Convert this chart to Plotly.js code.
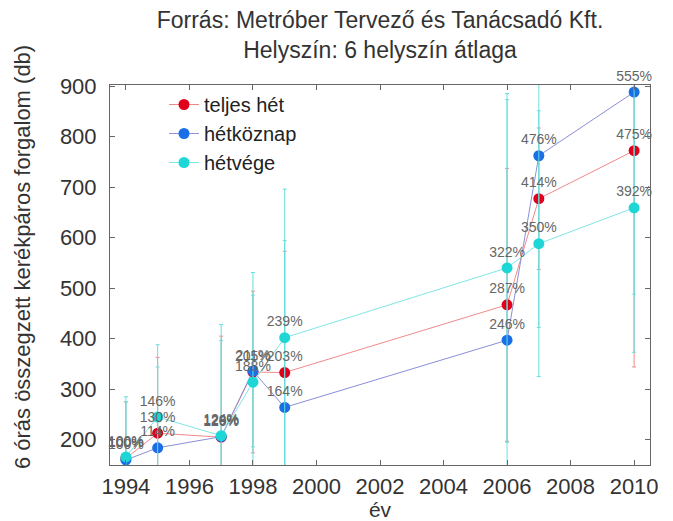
<!DOCTYPE html>
<html>
<head>
<meta charset="utf-8">
<script src="https://cdn.plot.ly/plotly-3.0.1.min.js"></script>
<style>html,body{margin:0;padding:0;background:#fff;}#chart{width:673px;height:521px;}</style>
</head>
<body>
<div id="chart"></div>
<script>
// ---- data ----
var years = [1994, 1995, 1997, 1998, 1999, 2006, 2007, 2010];

var teljesHet   = [163, 213, 205, 334, 333, 467, 677, 772];
var hetkoznap   = [160, 184, 206, 336, 264, 397, 762, 888];
var hetvege     = [166, 245, 208, 314, 402, 540, 588, 659];

var teljesErr   = [112, 150, 200, 160, 240, 270, 140, 428];
var hetkoznapErr= [115, 160, 190, 150, 330, 476, 340, 400];
var hetvegeErr  = [119, 143, 220, 217, 294, 345, 263, 286];

var teljesPct   = ["100%", "130%", "126%", "205%", "203%", "287%", "414%", "475%"];
var hetkoznapPct= ["100%", "114%", "129%", "211%", "164%", "246%", "476%", "555%"];
var hetvegePct  = ["100%", "146%", "124%", "188%", "239%", "322%", "350%", "392%"];

var seriesNames = ["teljes hét", "hétköznap", "hétvége"];
var titleText = "Forrás: Metróber Tervező és Tanácsadó Kft.<br>Helyszín: 6 helyszín átlaga";
var xTitle = "év";
var yTitle = "6 órás összegzett kerékpáros forgalom (db)";

// ---- styling ----
var markerColors = ["#e0001b", "#1a6fe6", "#1fd6d6"];
var lineColors   = ["#f08a8a", "#8a8fd8", "#7fe6e6"];
var errColors    = ["#f08a8a", "#74dede", "#66dede"];

var values = [teljesHet, hetkoznap, hetvege];
var errs = [teljesErr, hetkoznapErr, hetvegeErr];
var pcts = [teljesPct, hetkoznapPct, hetvegePct];

var FONT = "Liberation Sans, Arial, sans-serif";
var traces = [];
for (var i = 0; i < 3; i++) {
  traces.push({
    type: "scatter",
    mode: "lines+markers",
    name: seriesNames[i],
    x: years,
    y: values[i],
    line: {color: lineColors[i], width: 1},
    marker: {color: markerColors[i], size: 11, line: {width: 0}},
    error_y: {type: "data", array: errs[i], visible: true, color: errColors[i], thickness: 1, width: 2},
    hoverinfo: "x+y"
  });
}
for (var j = 0; j < 3; j++) {
  traces.push({
    type: "scatter",
    mode: "markers+text",
    showlegend: false,
    x: years,
    y: values[j],
    text: pcts[j],
    textposition: "top center",
    textfont: {family: FONT, size: 14, color: "#666"},
    marker: {size: 11, opacity: 0},
    cliponaxis: false,
    hoverinfo: "skip"
  });
}

var axisCommon = {
  showgrid: false,
  zeroline: false,
  showline: true,
  linecolor: "#666",
  linewidth: 1,
  mirror: "ticks",
  ticks: "inside",
  ticklen: 5,
  tickcolor: "#666",
  tickfont: {family: FONT, size: 22, color: "#333"}
};

var layout = {
  width: 673,
  height: 521,
  margin: {l: 110, r: 23, t: 85, b: 56},
  paper_bgcolor: "#fff",
  plot_bgcolor: "#fff",
  font: {family: FONT, color: "#333"},
  title: {
    text: titleText,
    font: {family: FONT, size: 23, color: "#333"},
    xref: "paper", x: 0.5, xanchor: "center",
    yref: "container", y: 0.947, yanchor: "top"
  },
  xaxis: Object.assign({}, axisCommon, {
    range: [1993.5, 2010.5],
    tick0: 1994, dtick: 2,
    ticklabelstandoff: 2,
    title: {text: xTitle, font: {family: FONT, size: 21, color: "#333"}, standoff: 0}
  }),
  yaxis: Object.assign({}, axisCommon, {
    range: [150, 902],
    tick0: 0, dtick: 100,
    ticklabelstandoff: 8
  }),
  annotations: [{
    text: yTitle,
    xref: "paper", yref: "paper",
    x: -0.163, y: 0.547,
    xanchor: "center", yanchor: "middle",
    textangle: -90,
    showarrow: false,
    font: {family: FONT, size: 22, color: "#333"}
  }],
  legend: {
    x: 0.1, y: 1.0, xanchor: "left", yanchor: "top",
    bgcolor: "rgba(255,255,255,0)",
    font: {family: FONT, size: 20, color: "#222"},
    tracegroupgap: 0
  },
  showlegend: true
};

Plotly.newPlot("chart", traces, layout, {displayModeBar: false, staticPlot: true});
</script>
</body>
</html>
